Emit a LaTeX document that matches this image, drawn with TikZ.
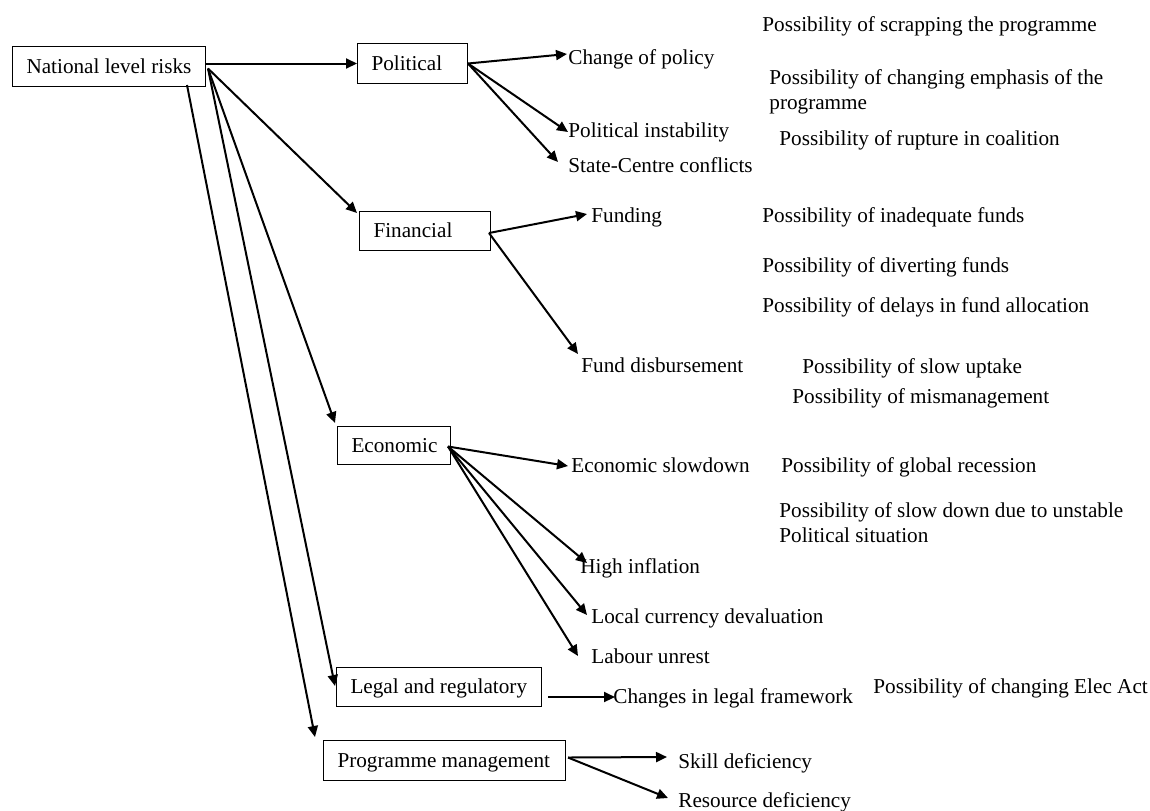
\documentclass[tikz,border=0pt]{standalone}
\usepackage{fontspec}
\setmainfont{Liberation Serif}
\usetikzlibrary{arrows.meta,calc}
\begin{document}
\begin{tikzpicture}[x=0.5pt,y=-0.5pt,
  font=\fontsize{10.6}{12.5}\selectfont,
  riskbox/.style={draw,line width=0.5pt,anchor=north west,inner xsep=7pt,inner ysep=0pt,
    text height=0.662em,text depth=0pt},
  lbl/.style={anchor=base west,inner sep=0pt},
  arr/.style={line width=1pt,-{Triangle[length=5.5pt,width=5pt]}}]
\useasboundingbox (0,0) rectangle (1150,810);
% boxes
\node[riskbox,minimum height=20pt] (nat) at (12,46) {\makebox[82.5pt][l]{National level risks}};
\node[riskbox,minimum height=20pt] (pol) at (357,43) {\makebox[41pt][l]{Political}};
\node[riskbox,minimum height=19.5pt] (fin) at (359,211) {\makebox[51.5pt][l]{Financial}};
\node[riskbox,minimum height=19pt] (eco) at (337,426) {\makebox[42.5pt][l]{Economic}};
\node[riskbox,minimum height=19.5pt] (leg) at (336,667) {\makebox[88.5pt][l]{Legal and regulatory}};
\node[riskbox,minimum height=20pt] (prog) at (323,740) {\makebox[107pt][l]{Programme management}};
% political
\node[lbl] (p1) at (568,64) {Change of policy};
\node[lbl] (p2) at (568,137) {Political instability};
\node[lbl] (p3) at (568,172) {State-Centre conflicts};
\node[lbl] (ps1) at (762,31) {Possibility of scrapping the programme};
\node[lbl] (ps2a) at (769,84) {Possibility of changing emphasis of the};
\node[lbl] (ps2b) at (769,109) {programme};
\node[lbl] (ps3) at (779,145) {Possibility of rupture in coalition};
% financial
\node[lbl] (f1) at (591,222) {Funding};
\node[lbl] (f2) at (581,372) {Fund disbursement};
\node[lbl] (fs1) at (762,222) {Possibility of inadequate funds};
\node[lbl] (fs2) at (762,272) {Possibility of diverting funds};
\node[lbl] (fs3) at (762,312) {Possibility of delays in fund allocation};
\node[lbl] (fs4) at (802,373) {Possibility of slow uptake};
\node[lbl] (fs5) at (792,403) {Possibility of mismanagement};
% economic
\node[lbl] (e1) at (571,472) {Economic slowdown};
\node[lbl] (es1) at (781,472) {Possibility of global recession};
\node[lbl] (es2a) at (779,517) {Possibility of slow down due to unstable};
\node[lbl] (es2b) at (779,542) {Political situation};
\node[lbl] (e2) at (580,573) {High inflation};
\node[lbl] (e3) at (591,623) {Local currency devaluation};
\node[lbl] (e4) at (591,663) {Labour unrest};
% legal
\node[lbl] (l1) at (613,703) {Changes in legal framework};
\node[lbl] (ls1) at (873,693) {Possibility of changing Elec Act};
% programme
\node[lbl] (m1) at (678,768) {Skill deficiency};
\node[lbl] (m2) at (678,807) {Resource deficiency};
% connectors from national
\draw[arr] ($(nat.east)+(0,-3)$) -- (pol.west);
\draw[arr] ($(nat.east)+(2,2)$) -- ($(fin.north west)+(-2,2)$);
\draw[arr] ($(nat.east)+(2,2)$) -- ($(eco.north west)+(-2,-3)$);
\draw[arr] ($(nat.east)+(2,2)$) -- ($(leg.west)+(-1,-1)$);
\draw[arr] ($(nat.south east)+(-19,-2)$) -- ($(prog.north west)+(-8,-3)$);
% political
\draw[arr] (pol.east) -- ($(p1.base west)+(-1,-10)$);
\draw[arr] (pol.east) -- ($(p2.base west)+(0,-5)$);
\draw[arr] (pol.east) -- ($(p3.base west)+(-10,-10)$);
% financial
\draw[arr] ($(fin.east)+(-2,2)$) -- ($(f1.base west)+(-4,-8)$);
\draw[arr] ($(fin.east)+(-2,2)$) -- ($(f2.base west)+(-3,-18)$);
% economic
\draw[arr] ($(eco.east)+(-3,1)$) -- ($(e1.base west)+(-3,-6)$);
\draw[arr] ($(eco.east)+(-3,1)$) -- ($(e2.base west)+(7,-10)$);
\draw[arr] ($(eco.east)+(-3,1)$) -- ($(e3.base west)+(-4,-8)$);
\draw[arr] ($(eco.east)+(-3,1)$) -- ($(e4.base west)+(-13,-7)$);
% legal
\draw[arr] ($(leg.east)+(6,10)$) -- ($(l1.base west)+(2,-6)$);
% programme
\draw[arr] ($(prog.east)+(2,-3)$) -- ($(m1.base west)+(-11,-11)$);
\draw[arr] ($(prog.east)+(2,-3)$) -- ($(m2.base west)+(-10,-9)$);
\end{tikzpicture}
\end{document}
